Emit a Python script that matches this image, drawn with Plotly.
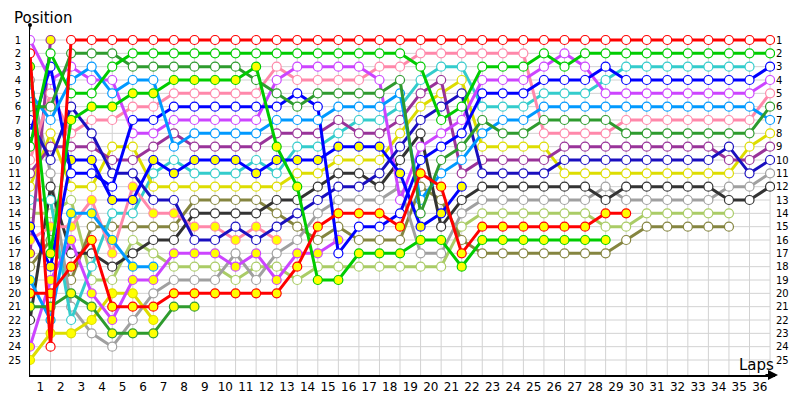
import plotly.graph_objects as go

laps = list(range(0, 37))
positions = list(range(1, 26))
lap_labels = [str(i) for i in range(1, 37)]

red_w = [2, 24] + [1] * 35
red_y = [20, 20, 18, 16, 21, 21, 21, 20, 20, 20, 20, 20, 20, 18, 15, 14, 14, 14, 15, 11, 12, 17, 15, 15, 15, 15, 15, 15, 14, 14]
green_w = [9, 2, 5, 5, 3] + [2] * 14 + [3, 7, 6, 3, 3, 3, 2, 3] + [2] * 10
green_y = [3, 17, 7, 6, 6, 5, 5, 4, 4, 4, 4, 3, 9, 12, 19, 19, 17, 17, 17, 16, 16, 18, 16, 16, 16, 16, 16, 16, 16]
dkgreen_w = [6, 6, 2, 2, 2, 3, 3, 3, 3, 3, 3, 4, 5, 6, 5, 5, 5, 5, 4, 14, 10, 9, 7, 8, 8, 7, 7, 7, 7, 8, 8, 8, 8, 8, 8, 8, 6]
dkgreen_y = [21, 21, 20, 21, 23, 23, 23, 21, 21]
azure_w = [5, 7, 4, 3, 5, 4, 4, 9, 8, 8, 8, 8, 7, 7, 7, 6, 6, 6, 5, 13, 11, 10, 8, 7, 7, 6, 6, 6, 6, 6, 6, 6, 6, 6, 6, 6, 7]
azure_y = [19, 22, 14, 14, 16, 18, 18]
blue_w = [8, 3, 11, 11, 12, 7, 7, 6, 6, 6, 6, 6, 6, 5, 6, 17, 15, 15, 14, 10, 9, 8, 5, 5, 5, 4, 4, 4, 3, 4, 4, 4, 4, 4, 4, 4, 3]
blue_y = [15, 18, 10, 10, 13, 13, 10, 11, 10, 10, 10, 11, 10, 10, 10, 9, 9, 9, 11, 15, 14, 12]
navy_w = [7, 10, 6, 8, 11, 11, 13, 13, 16, 16, 15, 16, 15, 14, 13, 12, 12, 11, 9, 7, 6, 5, 11, 11, 11, 11, 10, 10, 10, 10, 10, 10, 10, 10, 9, 11, 10]
violet_w = [1, 4, 3, 4, 4, 8, 8, 7, 7, 7, 7, 7, 4, 3, 3, 3, 3, 4, 13, 9, 8, 7, 4, 4, 4, 3, 2, 3, 5, 5, 5, 5, 5, 5, 5, 5, 4]
violet_y = [24, 19, 16, 20, 22, 19, 19, 17, 17, 17, 18, 17, 19, 17, 17, 16]
pink_w = [10, 5, 8, 7, 7, 6, 6, 5, 5, 5, 5, 5, 3, 4, 4, 4, 4, 3, 3, 2, 2, 2, 2, 2, 2, 8, 8, 8, 8, 7, 7, 7, 7, 7, 7, 7, 5]
pink_y = [16, 15, 15, 13, 17, 12, 14, 14, 15, 15, 16, 15, 16]
purple_w = [11, 9, 9, 9, 10, 10, 9, 8, 9, 9, 9, 9, 8, 8, 8, 7, 8, 8, 7, 5, 4, 11, 10, 10, 10, 10, 9, 9, 9, 9, 9, 9, 9, 9, 10, 10, 9]
purple_y = [17, 1]
yellow_w = [12, 8, 12, 12, 9, 9, 12, 12, 12, 12, 12, 12, 12, 11, 11, 10, 10, 10, 8, 6, 5, 4, 9, 9, 9, 9, 11, 11, 11, 11, 11, 11, 11, 11, 11, 9, 8]
yellow_y = [25, 23, 23, 22, 20, 20, 22]
cyan_w = [13, 13, 22, 18, 14, 14, 11, 10, 11, 11, 11, 10, 11, 9, 9, 8, 7, 7, 6, 4, 3, 3, 6, 6, 6, 5, 5, 5, 4, 3, 3, 3, 3, 3, 3, 3]
black_w = [22, 12, 17, 17, 18, 17, 16, 16, 14, 14, 14, 14, 13, 13, 12, 11, 11, 12, 10, 8, 15, 13, 12, 12, 12, 12, 12, 12, 13, 12, 12, 12, 12, 12, 13, 13, 12]
gray_w = [4, 11, 21, 23, 24, 22, 20, 19, 19, 19, 17, 19, 17, 16, 14, 13, 13, 13, 12, 17, 17, 14, 13, 13, 13, 13, 13, 13, 12, 13, 13, 13, 13, 13, 12, 12, 11]
olive_w = [18, 16, 19, 15, 15, 15, 15, 15, 13, 13, 13, 13, 14, 15, 16, 15, 16, 16, 16, 12, 13, 16, 17, 17, 17, 17, 17, 17, 17, 16, 15, 15, 15, 15, 15]
ltgreen_w = [14, 14, 13, 19, 19, 16, 17, 18, 18, 18, 19, 18, 18, 19, 18, 18, 18, 18, 18, 18, 18, 15, 14, 14, 14, 14, 14, 14, 15, 15, 14, 14, 14, 14, 14]

RED, GREEN, DKGREEN, AZURE = "#FF0000", "#00CC00", "#2E9B2E", "#0099FF"
BLUE, NAVY, VIOLET, PINK = "#0000FF", "#1A0FBF", "#CC44FF", "#FF88AA"
PURPLE, YELLOW, CYAN, BLACK = "#993399", "#DDDD00", "#33CCCC", "#333333"
GRAY, OLIVE, LTGREEN = "#A0A0A0", "#858540", "#AACC66"
W, Y = "#FFFFFF", "#FFFF00"

cars = [
    (ltgreen_w, LTGREEN, W), (olive_w, OLIVE, W), (gray_w, GRAY, W), (black_w, BLACK, W),
    (cyan_w, CYAN, W), (yellow_y, YELLOW, Y), (yellow_w, YELLOW, W), (purple_y, PURPLE, Y),
    (purple_w, PURPLE, W), (pink_y, PINK, Y), (pink_w, PINK, W), (violet_y, VIOLET, Y),
    (violet_w, VIOLET, W), (navy_w, NAVY, W), (blue_y, BLUE, Y), (blue_w, BLUE, W),
    (azure_y, AZURE, Y), (azure_w, AZURE, W), (dkgreen_y, DKGREEN, Y), (dkgreen_w, DKGREEN, W),
    (green_y, GREEN, Y), (green_w, GREEN, W), (red_y, RED, Y), (red_w, RED, W),
]

fig = go.Figure()
for vals, color, fill in cars:
    fig.add_trace(go.Scatter(
        x=laps[:len(vals)], y=vals, mode="lines+markers",
        line=dict(color=color, width=3),
        marker=dict(size=9, color=fill, line=dict(color=color, width=1.2)),
        showlegend=False, hoverinfo="skip"))

# invisible trace for the right axis
fig.add_trace(go.Scatter(x=[laps[0]], y=[positions[0]], yaxis="y2", mode="markers",
                         marker=dict(opacity=0), showlegend=False, hoverinfo="skip"))

YMIN, YMAX = -0.125, 26.125
shapes = []
for lp in laps:
    shapes.append(dict(type="line", xref="x", yref="y", x0=lp, x1=lp, y0=positions[0], y1=YMAX,
                       line=dict(color="#D2D2D2", width=1), layer="below"))
for p in positions:
    shapes.append(dict(type="line", xref="x", yref="y", x0=laps[0], x1=laps[-1], y0=p, y1=p,
                       line=dict(color="#D2D2D2", width=1), layer="below"))

FONT = "DejaVu Sans"
fig.update_layout(
    width=792, height=392,
    margin=dict(l=22, r=25, t=17, b=25, autoexpand=False),
    plot_bgcolor="white", paper_bgcolor="white",
    shapes=shapes,
    xaxis=dict(range=[0, 36.24], showgrid=False, zeroline=False, automargin=False,
               tickvals=[i - 0.5 for i in range(1, 37)], ticktext=lap_labels,
               ticks="", showline=True, linecolor="black", linewidth=2,
               tickfont=dict(family=FONT, size=12, color="black")),
    yaxis=dict(range=[YMAX, YMIN], showgrid=False, zeroline=False, automargin=False,
               tickvals=positions, ticktext=[str(p) for p in positions],
               ticks="", showline=True, linecolor="black", linewidth=1,
               ticklabelstandoff=6,
               tickfont=dict(family=FONT, size=10, color="black")),
    yaxis2=dict(range=[YMAX, YMIN], overlaying="y", side="right", showgrid=False,
                zeroline=False, automargin=False, tickvals=positions,
                ticktext=[str(p) for p in positions], ticks="", showline=False,
                tickfont=dict(family=FONT, size=10, color="black")),
    annotations=[
        dict(text="Position", xref="paper", yref="paper", x=-0.024, y=1.02,
             xanchor="left", yanchor="middle", showarrow=False,
             font=dict(family=FONT, size=15, color="black")),
        dict(text="Laps", xref="paper", yref="paper", x=0.975, y=0.03,
             xanchor="center", yanchor="middle", showarrow=False,
             font=dict(family=FONT, size=15, color="black")),
        dict(text="", xref="paper", yref="paper", x=1.004, y=0, ax=-14, ay=0,
             showarrow=True, arrowhead=2, arrowsize=1, arrowwidth=2, arrowcolor="black"),
        dict(text="", xref="paper", yref="paper", x=0, y=1, ax=0, ay=6,
             showarrow=True, arrowhead=6, arrowsize=1, arrowwidth=1, arrowcolor="black"),
    ],
)

fig.write_html("out.html")
